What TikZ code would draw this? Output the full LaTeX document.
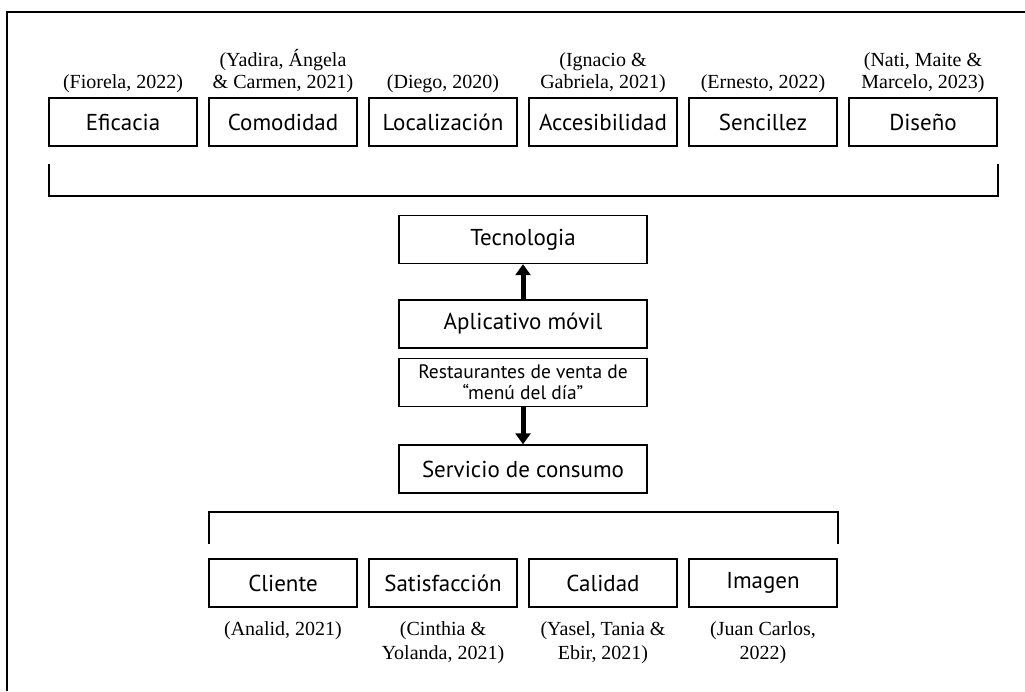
\documentclass[tikz,border=0pt]{standalone}
\usepackage{fontspec}
\setmainfont{Liberation Serif}
\newfontfamily\boxfont{PT Sans}
\usetikzlibrary{arrows.meta}
\begin{document}
\begin{tikzpicture}[x=1pt,y=-1pt,
  concept/.style={draw=black, line width=1.4pt, minimum width=148pt, minimum height=48pt, inner sep=0pt, font=\boxfont\fontsize{23}{26}\selectfont},
  midbox/.style={concept, minimum width=248pt},
  cite/.style={inner sep=0pt, align=center, font=\fontsize{20}{22}\selectfont},
  citeb/.style={inner sep=0pt, align=center, font=\fontsize{20}{24}\selectfont},
  bracket/.style={line width=1.6pt},
  bigarrow/.style={line width=5pt, -{Triangle[width=15pt,length=11pt]}}
]
\useasboundingbox (0,0) rectangle (1025,691);
% outer frame (left and top only visible)
\draw[line width=1.5pt] (7,691) -- (7,12) -- (1025,12);

% top concepts
\node[concept] (c1) at (123,122) {Eficacia};
\node[concept] (c2) at (283,122) {Comodidad};
\node[concept] (c3) at (443,122) {Localización};
\node[concept] (c4) at (603,122) {Accesibilidad};
\node[concept] (c5) at (763,122) {Sencillez};
\node[concept] (c6) at (923,122) {Diseño};

\node[cite, anchor=south] (r1) at (123,93) {(Fiorela, 2022)};
\node[cite, anchor=south] (r2) at (283,93) {(Yadira, Ángela\\ \& Carmen, 2021)};
\node[cite, anchor=south] (r3) at (443,93) {(Diego, 2020)};
\node[cite, anchor=south] (r4) at (603,93) {(Ignacio \&\\ Gabriela, 2021)};
\node[cite, anchor=south] (r5) at (763,93) {(Ernesto, 2022)};
\node[cite, anchor=south] (r6) at (923,93) {(Nati, Maite \&\\ Marcelo, 2023)};

% top bracket
\coordinate (tb1) at (49,164);
\coordinate (tb2) at (49,196);
\coordinate (tb3) at (998,196);
\coordinate (tb4) at (998,164);
\draw[bracket] (tb1) -- (tb2) -- (tb3) -- (tb4);

% middle column
\node[midbox] (tec) at (523,239.5) {Tecnologia};
\node[midbox] (app) at (523,324) {Aplicativo móvil};
\node[midbox, align=center, font=\boxfont\fontsize{19.5}{21}\selectfont] (res) at (523,382.5) {Restaurantes de venta de\\“menú del día”};
\node[midbox] (ser) at (523,469) {Servicio de consumo};

\draw[bigarrow] (app.north) -- (tec.south);
\draw[bigarrow] (res.south) -- (ser.north);

% bottom bracket
\coordinate (bb1) at (209,544);
\coordinate (bb2) at (209,512);
\coordinate (bb3) at (838,512);
\coordinate (bb4) at (838,544);
\draw[bracket] (bb1) -- (bb2) -- (bb3) -- (bb4);

% bottom concepts
\node[concept] (d1) at (283,583) {Cliente};
\node[concept] (d2) at (443,583) {Satisfacción};
\node[concept] (d3) at (603,583) {Calidad};
\node[concept] (d4) at (763,583) {Imagen};

\node[citeb, anchor=north] (s1) at (283,621) {(Analid, 2021)};
\node[citeb, anchor=north] (s2) at (443,621) {(Cinthia \&\\ Yolanda, 2021)};
\node[citeb, anchor=north] (s3) at (603,621) {(Yasel, Tania \&\\ Ebir, 2021)};
\node[citeb, anchor=north] (s4) at (763,621) {(Juan Carlos,\\ 2022)};
\end{tikzpicture}
\end{document}
